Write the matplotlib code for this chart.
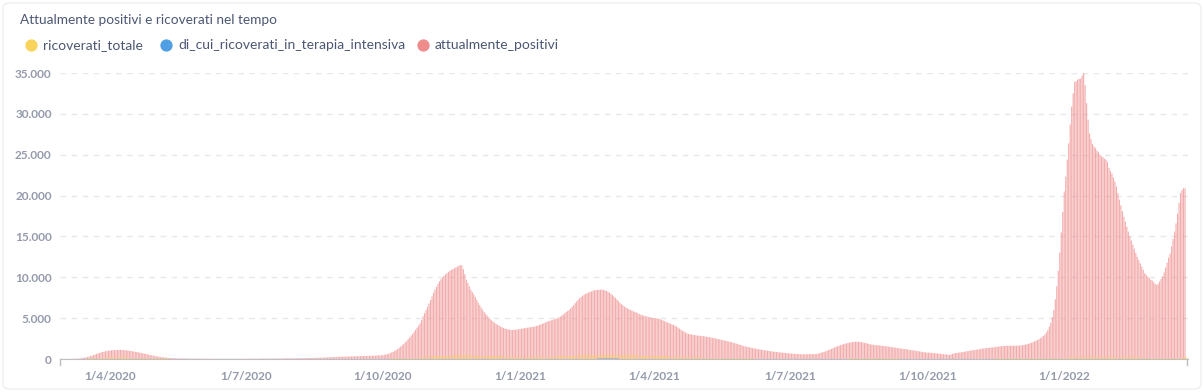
import matplotlib
matplotlib.use('Agg')
from matplotlib import pyplot as plt
from matplotlib.patches import FancyBboxPatch
import matplotlib.dates as mdates
import numpy as np
import pandas as pd

# attualmente_positivi, daily from 24/2/2020
positivi_2020 = [
    0, 0, 0, 0, 0, 1,  # feb
    2, 3, 5, 8, 10, 15, 20, 25, 30, 40, 50, 70, 90, 120, 150, 200, 250, 300, 350, 420,
    480, 550, 620, 680, 740, 800, 850, 900, 940, 980, 1010,  # mar
    1030, 1050, 1070, 1080, 1090, 1100, 1110, 1110, 1100, 1090, 1080, 1060, 1040, 1010, 980,
    950, 920, 880, 850, 810, 780, 740, 700, 660, 620, 580, 540, 500, 460, 420,  # apr
    380, 340, 310, 280, 250, 220, 200, 180, 160, 140, 125, 110, 100, 90, 85, 80, 75, 70, 65, 60,
    58, 55, 52, 50, 48, 46, 44, 42, 40, 38, 36,  # may
    35, 34, 33, 33, 31, 30, 30, 29, 28, 29, 27, 27, 26, 26, 25, 26, 25, 24, 24, 24,
    24, 24, 25, 25, 26, 26, 26, 27, 28, 30,  # jun
    30, 31, 32, 34, 34, 35, 37, 37, 38, 40, 42, 44, 47, 48, 50, 52, 54, 55, 57, 58,
    60, 62, 64, 67, 68, 70, 72, 75, 76, 78, 80,  # jul
    82, 84, 87, 88, 90, 93, 97, 100, 104, 108, 112, 117, 120, 125, 131, 135, 140, 146, 153, 158,
    165, 172, 181, 188, 196, 205, 214, 225, 234, 245, 256,  # aug
    265, 272, 279, 284, 290, 297, 302, 309, 314, 320, 327, 332, 338, 345, 350, 357, 362, 368, 375, 380,
    386, 393, 398, 404, 411, 418, 426, 434, 442, 450,  # sep
    470, 500, 540, 590, 650, 720, 800, 890, 990, 1100, 1230, 1370, 1520, 1680, 1850, 2030, 2220, 2420,
    2630, 2850, 3080, 3320, 3570, 3830, 4100, 4380, 4750, 5200, 5600, 6000, 6400,  # oct
    6800, 7200, 7650, 8100, 8500, 8850, 9200, 9500, 9750, 9950, 10150, 10350, 10500, 10650, 10800,
    10900, 11000, 11100, 11200, 11300, 11400, 11500, 11450, 11000, 10400, 9700, 9300, 8900, 8500, 8200,  # nov
    7900, 7600, 7250, 6900, 6600, 6300, 6000, 5750, 5500, 5300, 5100, 4900, 4720, 4560, 4420, 4290,
    4170, 4060, 3960, 3870, 3790, 3720, 3670, 3620, 3590, 3560, 3550, 3560, 3580, 3610, 3640,  # dec
]
positivi_2021 = [
    3670, 3700, 3740, 3770, 3800, 3830, 3860, 3880, 3910, 3940, 3980, 4040, 4100, 4170, 4240, 4310,
    4380, 4450, 4560, 4620, 4680, 4740, 4800, 4860, 4920, 4990, 5080, 5180, 5300, 5450, 5600,  # jan
    5750, 5880, 6000, 6200, 6400, 6620, 6840, 7060, 7260, 7450, 7600, 7740, 7860, 7970, 8060, 8140,
    8210, 8280, 8360, 8400, 8430, 8450, 8470, 8480, 8480, 8450, 8400, 8330,  # feb
    8240, 8130, 7990, 7830, 7660, 7480, 7290, 7100, 6900, 6720, 6560, 6420, 6300, 6200, 6100, 6000,
    5920, 5840, 5760, 5690, 5600, 5500, 5430, 5370, 5310, 5260, 5210, 5160, 5110, 5060, 5020,  # mar
    5000, 4990, 4980, 4930, 4860, 4780, 4700, 4620, 4540, 4460, 4380, 4310, 4240, 4160, 4070, 3960,
    3840, 3710, 3580, 3460, 3350, 3250, 3140, 3080, 3030, 2990, 2960, 2930, 2900, 2870,  # apr
    2850, 2830, 2810, 2790, 2760, 2730, 2700, 2670, 2630, 2590, 2560, 2530, 2490, 2450, 2400, 2360,
    2320, 2270, 2220, 2180, 2140, 2100, 2050, 2000, 1950, 1890, 1830, 1770, 1710, 1650, 1590,  # may
    1540, 1500, 1460, 1420, 1380, 1340, 1300, 1260, 1230, 1200, 1170, 1140, 1100, 1070, 1040, 1010,
    980, 950, 920, 900, 880, 860, 840, 820, 800, 780, 760, 740, 720, 700,  # jun
    680, 660, 645, 630, 620, 610, 600, 595, 590, 585, 585, 585, 585, 590, 595, 600, 605, 610, 620, 660,
    710, 770, 830, 890, 950, 1020, 1100, 1180, 1260, 1340, 1420,  # jul
    1500, 1570, 1640, 1700, 1760, 1820, 1870, 1920, 1960, 2000, 2040, 2070, 2090, 2110, 2120, 2110,
    2090, 2060, 2020, 1980, 1940, 1900, 1850, 1800, 1770, 1740, 1710, 1690, 1670, 1650, 1630,  # aug
    1610, 1590, 1570, 1550, 1520, 1500, 1470, 1440, 1410, 1380, 1350, 1320, 1290, 1260, 1240, 1220,
    1200, 1170, 1140, 1100, 1070, 1040, 1010, 980, 950, 920, 890, 860, 830, 800,  # sep
    790, 780, 770, 750, 730, 710, 690, 670, 650, 630, 610, 590, 570, 550, 520, 490, 560, 620, 680, 720,
    750, 770, 800, 830, 860, 890, 920, 950, 990, 1020, 1050,  # oct
    1080, 1110, 1140, 1170, 1200, 1230, 1260, 1290, 1320, 1350, 1360, 1380, 1400, 1420, 1440, 1460,
    1490, 1520, 1550, 1570, 1590, 1600, 1610, 1610, 1620, 1620, 1620, 1630, 1630, 1630,  # nov
    1630, 1640, 1660, 1690, 1720, 1760, 1810, 1860, 1920, 1990, 2060, 2140, 2230, 2320, 2420, 2530,
    2660, 2820, 3000, 3250, 3550, 3950, 4450, 5100, 6000, 7300, 8900, 10800, 13000, 15500, 18000,  # dec
]
positivi_2022 = [
    20500, 22300, 24400, 26400, 28700, 30900, 32500, 33900, 34000, 34200, 34300, 34300, 34700, 35000,
    33500, 31300, 29300, 27600, 26900, 26300, 26000, 25800, 25500, 25300, 25000, 24800, 24700, 24500,
    24400, 24100, 23400,  # jan
    23000, 22700, 22200, 21700, 21100, 20300, 19500, 18800, 18100, 17400, 16800, 16200, 15600, 15000,
    14500, 14000, 13500, 13000, 12500, 12100, 11700, 11300, 10900, 10500, 10300, 10100, 9900, 9700,  # feb
    9600, 9400, 9200, 9060, 9200, 9500, 9800, 10100, 10600, 11200, 11800, 12400, 12900, 13800, 14700,
    15600, 16600, 17800, 19100, 20300, 20700, 20900, 20900,  # mar
]

# ricoverati_totale and di_cui_ricoverati_in_terapia_intensiva, weekly from 24/2/2020
ricoverati_totale = [
    0, 5, 20, 80, 150, 200, 210, 180, 140, 100, 70, 45, 30, 20, 12, 8, 6, 5, 5, 5,
    6, 8, 10, 12, 15, 20, 25, 30, 35, 40, 45, 55, 70, 110, 180, 260, 340, 400, 440, 440,
    400, 350, 310, 280, 270,
    270, 280, 300, 330, 380, 430, 470, 490, 490, 470, 430, 390, 350, 310, 270, 230, 190, 160, 130, 110,
    90, 70, 55, 45, 35, 30, 25, 25, 30, 40, 55, 70, 80, 80, 75, 70, 60, 50, 45, 40,
    35, 35, 40, 45, 55, 65, 75, 85, 95, 110, 130, 160,
    200, 240, 260, 260, 250, 230, 200, 180, 170, 170, 180, 190,
]
terapia_intensiva = [
    0, 1, 4, 15, 25, 30, 28, 22, 15, 10, 6, 4, 3, 2, 1, 1, 1, 1, 1, 1,
    1, 1, 1, 1, 2, 2, 3, 3, 4, 4, 5, 6, 8, 12, 20, 30, 40, 48, 52, 52,
    48, 42, 38, 35, 34,
    34, 35, 37, 40, 45, 52, 58, 62, 62, 60, 56, 50, 44, 38, 32, 27, 22, 18, 15, 12,
    10, 8, 6, 5, 4, 3, 3, 3, 3, 4, 6, 8, 9, 9, 8, 8, 7, 6, 5, 5,
    4, 4, 4, 5, 6, 7, 8, 9, 10, 11, 12, 14,
    16, 18, 18, 17, 16, 15, 13, 11, 10, 10, 10, 11,
]

tick_dates = ['2020-04-01', '2020-07-01', '2020-10-01', '2021-01-01',
              '2021-04-01', '2021-07-01', '2021-10-01', '2022-01-01']
y_ticks = [0, 5000, 10000, 15000, 20000, 25000, 30000, 35000]

positivi = np.array(positivi_2020 + positivi_2021 + positivi_2022)
days = mdates.date2num(pd.date_range('2020-02-24', periods=len(positivi)))
weeks = mdates.date2num(pd.date_range('2020-02-24', periods=len(ricoverati_totale), freq='7D'))

TEXT = '#4C5773'
LABEL = '#949AAB'

fig = plt.figure(figsize=(12.04, 3.92), dpi=100)
fig.patch.set_facecolor('white')

# card / title / legend layer, pixel coords
ov = fig.add_axes([0, 0, 1, 1])
ov.set_xlim(0, 1204)
ov.set_ylim(392, 0)
ov.axis('off')
ov.add_patch(FancyBboxPatch((3, 3), 1198, 386, boxstyle='round,pad=0,rounding_size=6',
                            fc='white', ec='#EEEFF2', lw=1))
ov.text(20, 20, 'Attualmente positivi e ricoverati nel tempo', fontsize=9.85,
        family='Lato', color=TEXT, va='center', ha='left')
legend = [(31, '#F9D45C', 'ricoverati_totale'),
          (166, '#509EE3', 'di_cui_ricoverati_in_terapia_intensiva'),
          (423, '#EF8C8C', 'attualmente_positivi')]
for lx, col, name in legend:
    ov.scatter([lx], [45], s=78, color=col, lw=0)
    ov.text(lx + 12, 45, name, fontsize=10, family='Lato', color=TEXT, va='center', ha='left')
# small end ticks of the x axis
for tx in (60, 1187):
    ov.plot([tx, tx], [359, 365], color='#BDBFC4', lw=1)

ax = fig.add_axes([60 / 1204, 33 / 392, 1128 / 1204, 286 / 392])
ax.patch.set_alpha(0)
x0 = mdates.date2num(pd.Timestamp('2020-04-01'))
ax.set_xlim(x0 - 33.5, x0 + 723)
ax.set_ylim(0, 35000)

ax.bar(days, positivi, width=0.75, color='#EF8C8C', alpha=0.72, lw=0, zorder=2, snap=False)
ax.bar(weeks + 3.5, ricoverati_totale, width=6.6, color='#F9D45C', alpha=0.4, lw=0, zorder=3)
ax.bar(weeks + 3.5, terapia_intensiva, width=6.6, color='#509EE3', alpha=0.4, lw=0, zorder=4)

ax.set_yticks(y_ticks)
ax.set_yticklabels([f'{v:,}'.replace(',', '.') for v in y_ticks])
ticks = pd.to_datetime(tick_dates)
ax.set_xticks(mdates.date2num(ticks))
ax.set_xticklabels([f'{d.day}/{d.month}/{d.year}' for d in ticks])
for lab in ax.get_xticklabels() + ax.get_yticklabels():
    lab.set_family('Lato')
    lab.set_fontweight('bold')
    lab.set_fontsize(8.5)
    lab.set_color(LABEL)
ax.tick_params(axis='x', length=0, pad=9)
ax.tick_params(axis='y', length=0, pad=6)

ax.yaxis.grid(True, linestyle=(0, (4, 4)), color='#E6E8EC', lw=1, zorder=0)
ax.set_axisbelow(True)
for s in ('top', 'right', 'left'):
    ax.spines[s].set_visible(False)
ax.spines['bottom'].set_color('#BDBFC4')
ax.spines['bottom'].set_zorder(5)

fig.savefig('out.png', dpi=100)
